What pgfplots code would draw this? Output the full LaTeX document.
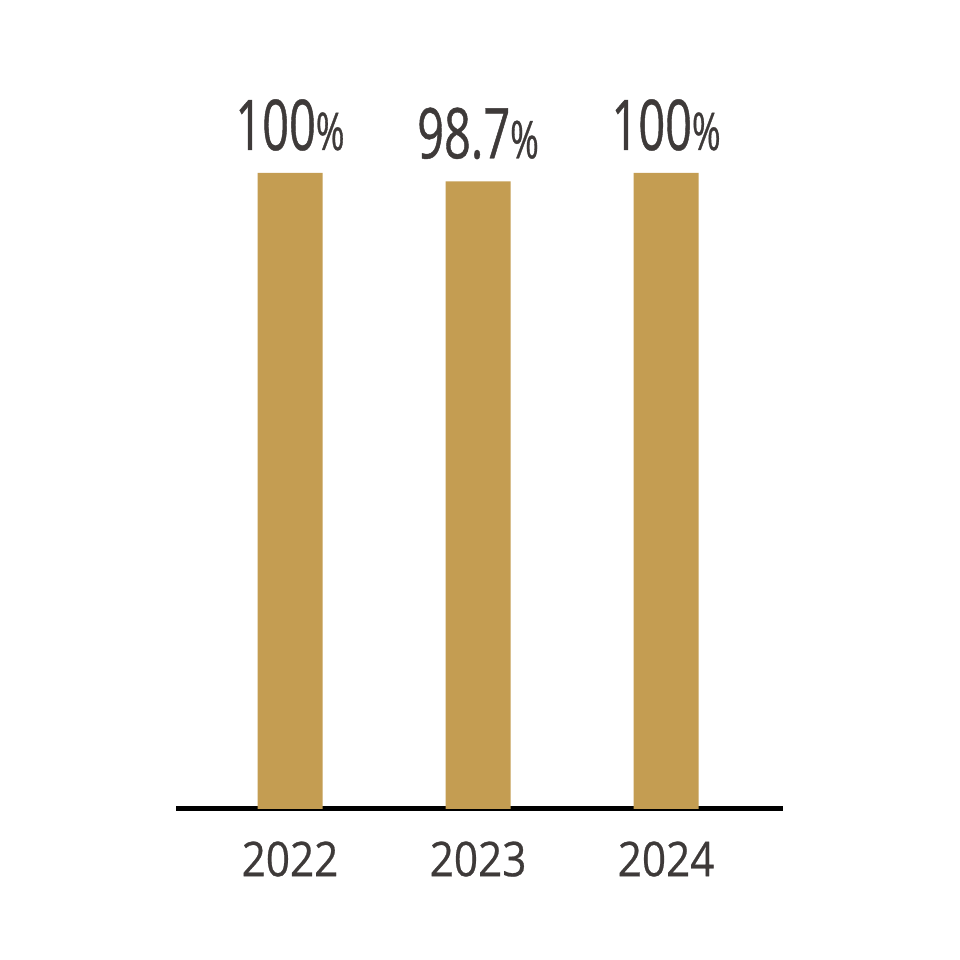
\documentclass[border=0pt]{standalone}
\usepackage{pgfplots}
\pgfplotsset{compat=1.18}
\usepackage{fontspec}
\setmainfont{Open Sans}
\newfontfamily\condfont[FakeStretch=0.67,FakeBold=0.6]{Open Sans}
\newfontfamily\tickfont[FakeStretch=0.88,FakeBold=0.5]{Open Sans}
\definecolor{barcol}{HTML}{C49D52}
\definecolor{txt}{HTML}{3E3A39}
\begin{document}
\begin{tikzpicture}
\useasboundingbox[fill=white] (0,0) rectangle (480pt,480pt);
\begin{axis}[
  at={(145pt,75.5pt)}, anchor=origin,
  scale only axis, width=303.5pt, height=318pt,
  xmin=-0.606, xmax=2.622, ymin=0, ymax=100,
  clip=false,
  /pgf/number format/assume math mode=true,
  axis x line=bottom, axis line style={-, line width=2.5pt, black},
  hide y axis,
  xtick={0,1,2}, xticklabels={2022,2023,2024},
  major tick length=0pt,
  xticklabel style={font=\tickfont\fontsize{24}{24}\selectfont, text=txt, anchor=north, inner sep=0pt, yshift=-16pt},
  ybar, bar width=32.5pt,
  nodes near coords={\condfont\fontsize{35}{35}\selectfont\pgfmathprintnumber{\pgfplotspointmeta}{\fontsize{26}{26}\selectfont\%}},
  every node near coord/.append style={text=txt, anchor=base, inner sep=0pt, yshift=11.5pt},
]
\addplot[fill=barcol, draw=none] coordinates {(0,100) (1,98.7) (2,100)};
\end{axis}
\end{tikzpicture}
\end{document}
